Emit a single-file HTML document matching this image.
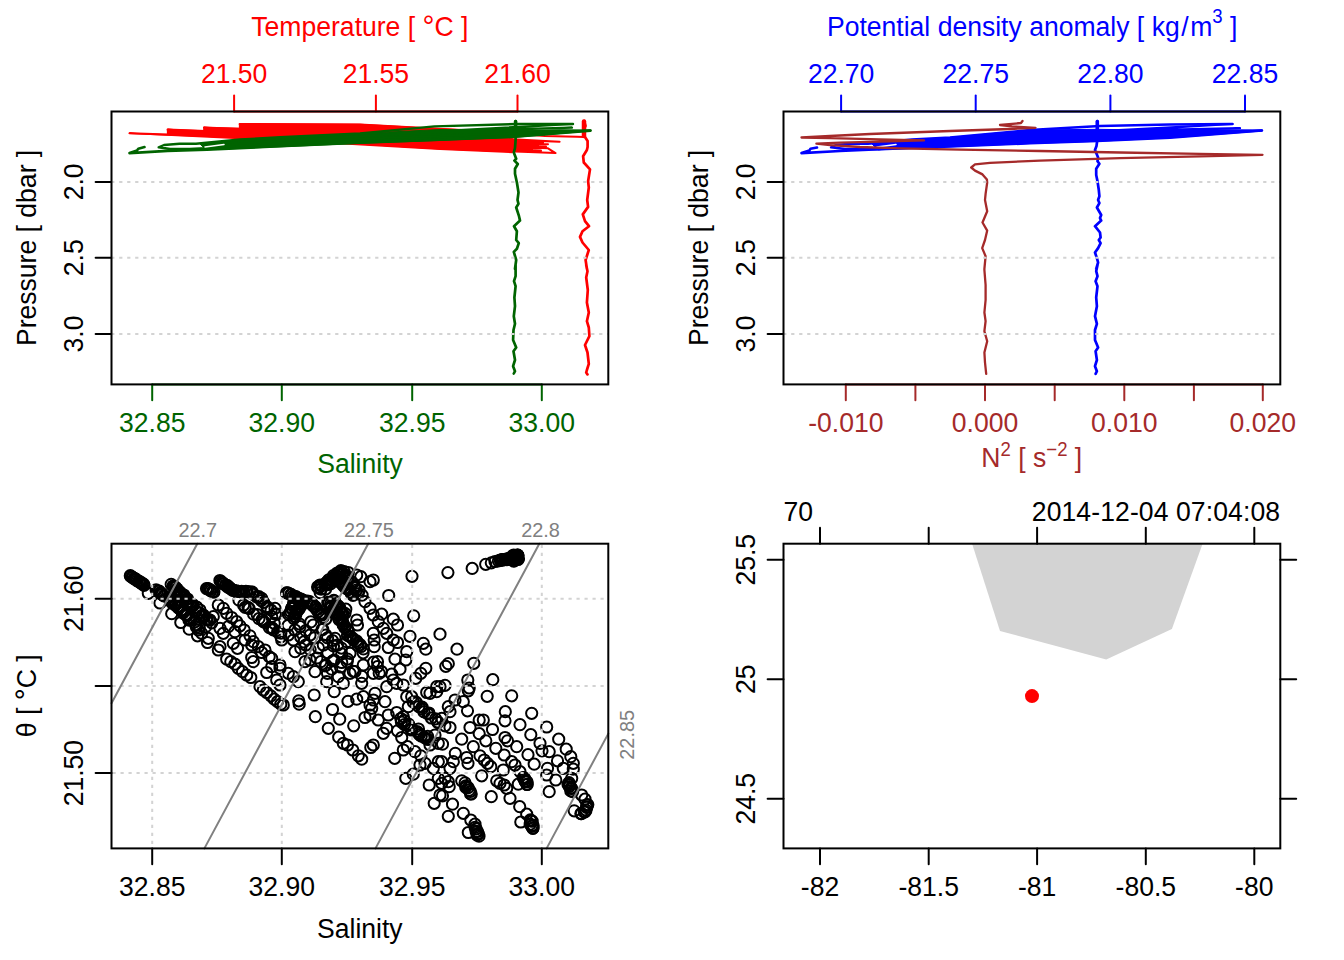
<!DOCTYPE html>
<html><head><meta charset="utf-8"><title>CTD plot</title>
<style>
html,body{margin:0;padding:0;background:#fff;}
svg{display:block;font-family:"Liberation Sans",sans-serif;}
</style></head><body>
<svg width="1344" height="960" viewBox="0 0 1344 960">
<rect x="0" y="0" width="1344" height="960" fill="#fff"/>
<line x1="234.10" y1="111.50" x2="234.10" y2="95.60" stroke="#ff0000" stroke-width="2" stroke-linecap="round" />
<text transform="translate(234.10 82.90) scale(1 1.06)" fill="#ff0000" font-size="26.56" text-anchor="middle" >21.50</text>
<line x1="375.90" y1="111.50" x2="375.90" y2="95.60" stroke="#ff0000" stroke-width="2" stroke-linecap="round" />
<text transform="translate(375.90 82.90) scale(1 1.06)" fill="#ff0000" font-size="26.56" text-anchor="middle" >21.55</text>
<line x1="517.50" y1="111.50" x2="517.50" y2="95.60" stroke="#ff0000" stroke-width="2" stroke-linecap="round" />
<text transform="translate(517.50 82.90) scale(1 1.06)" fill="#ff0000" font-size="26.56" text-anchor="middle" >21.60</text>
<line x1="234.10" y1="111.50" x2="517.50" y2="111.50" stroke="#ff0000" stroke-width="2" stroke-linecap="round" />
<text transform="translate(359.90 35.50) scale(1 1.06)" fill="#ff0000" font-size="26.56" text-anchor="middle" >Temperature [ <tspan font-size="30" dy="1.2">°</tspan><tspan dy="-1.2">C ]</tspan></text>
<line x1="152.20" y1="384.40" x2="152.20" y2="400.30" stroke="#006400" stroke-width="2" stroke-linecap="round" />
<text transform="translate(152.20 432.10) scale(1 1.06)" fill="#006400" font-size="26.56" text-anchor="middle" >32.85</text>
<line x1="281.80" y1="384.40" x2="281.80" y2="400.30" stroke="#006400" stroke-width="2" stroke-linecap="round" />
<text transform="translate(281.80 432.10) scale(1 1.06)" fill="#006400" font-size="26.56" text-anchor="middle" >32.90</text>
<line x1="412.20" y1="384.40" x2="412.20" y2="400.30" stroke="#006400" stroke-width="2" stroke-linecap="round" />
<text transform="translate(412.20 432.10) scale(1 1.06)" fill="#006400" font-size="26.56" text-anchor="middle" >32.95</text>
<line x1="541.80" y1="384.40" x2="541.80" y2="400.30" stroke="#006400" stroke-width="2" stroke-linecap="round" />
<text transform="translate(541.80 432.10) scale(1 1.06)" fill="#006400" font-size="26.56" text-anchor="middle" >33.00</text>
<line x1="152.20" y1="384.40" x2="541.80" y2="384.40" stroke="#006400" stroke-width="2" stroke-linecap="round" />
<text transform="translate(360.00 473.40) scale(1 1.06)" fill="#006400" font-size="26.56" text-anchor="middle" >Salinity</text>
<line x1="111.50" y1="181.90" x2="95.60" y2="181.90" stroke="#000" stroke-width="2" stroke-linecap="round" />
<text transform="translate(82.80 181.90) rotate(-90) scale(1 1.06)" fill="#000" font-size="26.56" text-anchor="middle" >2.0</text>
<line x1="111.50" y1="257.80" x2="95.60" y2="257.80" stroke="#000" stroke-width="2" stroke-linecap="round" />
<text transform="translate(82.80 257.80) rotate(-90) scale(1 1.06)" fill="#000" font-size="26.56" text-anchor="middle" >2.5</text>
<line x1="111.50" y1="334.00" x2="95.60" y2="334.00" stroke="#000" stroke-width="2" stroke-linecap="round" />
<text transform="translate(82.80 334.00) rotate(-90) scale(1 1.06)" fill="#000" font-size="26.56" text-anchor="middle" >3.0</text>
<text transform="translate(35.80 247.90) rotate(-90) scale(1 1.06)" fill="#000" font-size="26.56" text-anchor="middle" >Pressure [ dbar ]</text>
<polygon points="129.5,133.2 167.6,135 167.6,129.6 203.9,131 203.9,127.5 239.6,128.4 239.6,123.9 360,124.5 480,131 512,134 512,152.4 440,149.3 300,141.2" fill="#ff0000" stroke="#ff0000" stroke-width="1.5" stroke-linejoin="round"/>
<polyline points="584.0,137.0 577.0,136.8 545.0,136.0 480.0,131.0 360.0,124.5 239.6,123.9 559.6,141.8 203.9,127.5 548.0,144.2 167.6,129.6 546.0,146.6 129.5,133.2 548.0,148.3 555.5,153.1 440.0,148.5 300.0,140.0 541.0,150.6 250.0,136.0 538.0,145.5 330.0,130.0 532.0,149.0 280.0,133.0 543.0,142.6 300.0,127.0 527.0,147.3" fill="none" stroke="#ff0000" stroke-width="2" stroke-linejoin="round" stroke-linecap="round" />
<polyline points="584.0,121.0 585.5,126.0 583.0,131.0 585.0,137.0 587.6,141.0 587.6,147.0 586.9,150.0 583.1,156.2 583.8,162.5 590.0,169.4 588.1,181.2 588.8,187.5 587.2,200.0 588.1,206.9 582.8,214.4 585.0,221.2 589.0,226.2 582.5,231.2 580.0,236.9 582.5,242.5 588.8,250.0 585.6,260.0 586.9,268.8 586.2,265.0 587.5,271.2 586.2,277.5 587.8,290.0 586.9,302.5 588.8,312.5 586.9,321.2 588.8,327.5 589.4,336.2 585.0,345.0 587.5,352.5 588.8,363.8 586.9,370.0 586.2,372.5 587.5,374.4" fill="none" stroke="#ff0000" stroke-width="2.7" stroke-linejoin="round" stroke-linecap="round" />
<polyline points="584.0,121.5 584.0,136.0" fill="none" stroke="#ff0000" stroke-width="4.5" stroke-linejoin="round" stroke-linecap="round" />
<polygon points="200,144 240,139.5 280,137.3 360,133.5 440,129.5 515,130.5 560,129.8 590.5,130.2 590.5,131 515,137.3 440,140.4 360,143.3 280,146.8 206,149.8" fill="#006400" stroke="#006400" stroke-width="1" stroke-linejoin="round"/>
<polyline points="144.5,147.0 138.3,148.8 137.0,150.6 129.5,153.1 167.6,150.9 206.9,149.6 280.0,146.3 360.0,142.8 440.0,139.8 515.0,136.8 590.5,130.6" fill="none" stroke="#006400" stroke-width="2.6" stroke-linejoin="round" stroke-linecap="round" />
<polyline points="206.0,149.0 170.0,149.0 158.7,147.3 164.0,145.0 179.5,143.8 196.0,143.8 240.0,139.5 280.0,137.3 360.0,133.5 434.4,126.4 516.2,124.0 573.0,124.0" fill="none" stroke="#006400" stroke-width="2.4" stroke-linejoin="round" stroke-linecap="round" />
<polyline points="182.0,149.6 205.0,148.0 230.0,144.5 260.0,142.0 573.0,124.0 440.0,131.0 572.0,127.6 400.0,133.0 590.5,130.6 300.0,141.0" fill="none" stroke="#006400" stroke-width="2.2" stroke-linejoin="round" stroke-linecap="round" />
<polyline points="205.0,146.9 224.0,144.6" fill="none" stroke="#fff" stroke-width="1.5" stroke-linejoin="round" stroke-linecap="round" />
<polyline points="515.6,121.0 515.6,140.0 515.0,148.0 513.8,152.5 516.2,158.8 514.4,160.6 517.8,164.0 515.0,168.8 515.0,173.8 516.9,182.5 518.5,192.5 517.5,200.0 518.5,203.8 516.2,207.5 519.0,216.2 520.0,220.6 514.0,226.2 516.9,231.2 516.2,240.0 518.8,243.1 516.9,248.8 513.8,251.9 516.2,260.0 515.0,268.8 515.6,265.0 515.6,276.2 514.0,281.2 515.6,286.2 514.4,297.5 515.0,306.2 513.8,316.2 515.0,323.8 513.5,330.0 513.1,340.0 516.2,347.5 513.5,351.2 515.0,360.0 513.1,366.2 515.0,371.2 513.8,373.5" fill="none" stroke="#006400" stroke-width="2.7" stroke-linejoin="round" stroke-linecap="round" />
<polyline points="515.6,121.5 515.6,131.0" fill="none" stroke="#006400" stroke-width="3.6" stroke-linejoin="round" stroke-linecap="round" />
<line x1="111.20" y1="181.90" x2="608.30" y2="181.90" stroke="#d3d3d3" stroke-width="2" stroke-dasharray="3.2 4.8"/>
<line x1="111.20" y1="257.80" x2="608.30" y2="257.80" stroke="#d3d3d3" stroke-width="2" stroke-dasharray="3.2 4.8"/>
<line x1="111.20" y1="334.00" x2="608.30" y2="334.00" stroke="#d3d3d3" stroke-width="2" stroke-dasharray="3.2 4.8"/>
<rect x="111.50" y="111.50" width="496.80" height="272.90" fill="none" stroke="#000" stroke-width="2"/>
<line x1="841.10" y1="111.50" x2="841.10" y2="95.60" stroke="#0000ff" stroke-width="2" stroke-linecap="round" />
<text transform="translate(841.10 82.90) scale(1 1.06)" fill="#0000ff" font-size="26.56" text-anchor="middle" >22.70</text>
<line x1="975.70" y1="111.50" x2="975.70" y2="95.60" stroke="#0000ff" stroke-width="2" stroke-linecap="round" />
<text transform="translate(975.70 82.90) scale(1 1.06)" fill="#0000ff" font-size="26.56" text-anchor="middle" >22.75</text>
<line x1="1110.40" y1="111.50" x2="1110.40" y2="95.60" stroke="#0000ff" stroke-width="2" stroke-linecap="round" />
<text transform="translate(1110.40 82.90) scale(1 1.06)" fill="#0000ff" font-size="26.56" text-anchor="middle" >22.80</text>
<line x1="1245.00" y1="111.50" x2="1245.00" y2="95.60" stroke="#0000ff" stroke-width="2" stroke-linecap="round" />
<text transform="translate(1245.00 82.90) scale(1 1.06)" fill="#0000ff" font-size="26.56" text-anchor="middle" >22.85</text>
<line x1="841.10" y1="111.50" x2="1245.00" y2="111.50" stroke="#0000ff" stroke-width="2" stroke-linecap="round" />
<text transform="translate(1032.20 35.90) scale(1 1.06)" fill="#0000ff" font-size="26.56" text-anchor="middle" >Potential density anomaly [ kg<tspan dx="1.6">/</tspan><tspan dx="1.6">m</tspan><tspan dy="-12.6" font-size="18.6">3</tspan><tspan dy="12.6" font-size="26.56"> ]</tspan></text>
<line x1="845.80" y1="384.40" x2="845.80" y2="400.30" stroke="#a52a2a" stroke-width="2" stroke-linecap="round" />
<text transform="translate(845.80 432.10) scale(1 1.06)" fill="#a52a2a" font-size="26.56" text-anchor="middle" >-0.010</text>
<line x1="915.40" y1="384.40" x2="915.40" y2="400.30" stroke="#a52a2a" stroke-width="2" stroke-linecap="round" />
<line x1="985.00" y1="384.40" x2="985.00" y2="400.30" stroke="#a52a2a" stroke-width="2" stroke-linecap="round" />
<text transform="translate(985.00 432.10) scale(1 1.06)" fill="#a52a2a" font-size="26.56" text-anchor="middle" >0.000</text>
<line x1="1054.70" y1="384.40" x2="1054.70" y2="400.30" stroke="#a52a2a" stroke-width="2" stroke-linecap="round" />
<line x1="1124.30" y1="384.40" x2="1124.30" y2="400.30" stroke="#a52a2a" stroke-width="2" stroke-linecap="round" />
<text transform="translate(1124.30 432.10) scale(1 1.06)" fill="#a52a2a" font-size="26.56" text-anchor="middle" >0.010</text>
<line x1="1193.90" y1="384.40" x2="1193.90" y2="400.30" stroke="#a52a2a" stroke-width="2" stroke-linecap="round" />
<line x1="1262.80" y1="384.40" x2="1262.80" y2="400.30" stroke="#a52a2a" stroke-width="2" stroke-linecap="round" />
<text transform="translate(1262.80 432.10) scale(1 1.06)" fill="#a52a2a" font-size="26.56" text-anchor="middle" >0.020</text>
<line x1="845.80" y1="384.40" x2="1262.80" y2="384.40" stroke="#a52a2a" stroke-width="2" stroke-linecap="round" />
<text transform="translate(1031.80 467.20) scale(1 1.06)" fill="#a52a2a" font-size="26.56" text-anchor="middle" >N<tspan dy="-11" font-size="18.6">2</tspan><tspan dy="11" font-size="26.56"> [ s</tspan><tspan dy="-11" font-size="18.6">−2</tspan><tspan dy="11" font-size="26.56"> ]</tspan></text>
<line x1="783.50" y1="181.90" x2="767.60" y2="181.90" stroke="#000" stroke-width="2" stroke-linecap="round" />
<text transform="translate(754.80 181.90) rotate(-90) scale(1 1.06)" fill="#000" font-size="26.56" text-anchor="middle" >2.0</text>
<line x1="783.50" y1="257.80" x2="767.60" y2="257.80" stroke="#000" stroke-width="2" stroke-linecap="round" />
<text transform="translate(754.80 257.80) rotate(-90) scale(1 1.06)" fill="#000" font-size="26.56" text-anchor="middle" >2.5</text>
<line x1="783.50" y1="334.00" x2="767.60" y2="334.00" stroke="#000" stroke-width="2" stroke-linecap="round" />
<text transform="translate(754.80 334.00) rotate(-90) scale(1 1.06)" fill="#000" font-size="26.56" text-anchor="middle" >3.0</text>
<text transform="translate(707.80 247.90) rotate(-90) scale(1 1.06)" fill="#000" font-size="26.56" text-anchor="middle" >Pressure [ dbar ]</text>
<polygon points="872,144 912,139.5 950,137.5 1030,130 1097,129.3 1170,130.3 1230,129.8 1262,130.1 1262,131 1170,137.8 1097,141.3 1030,143.5 950,146.8 878,149.8" fill="#0000ff" stroke="#0000ff" stroke-width="1" stroke-linejoin="round"/>
<polyline points="817.0,147.5 810.5,148.8 809.3,150.6 801.5,153.1 840.0,151.0 880.0,149.3 950.0,146.5 1030.0,143.3 1097.0,141.0 1170.0,137.8 1262.0,130.5" fill="none" stroke="#0000ff" stroke-width="2.6" stroke-linejoin="round" stroke-linecap="round" />
<polyline points="880.0,149.0 845.0,149.0 831.0,147.3 836.0,145.0 851.0,143.8 868.0,143.8 912.0,139.5 950.0,137.5 1030.0,130.0 1100.0,126.0 1170.0,124.5 1232.5,124.0" fill="none" stroke="#0000ff" stroke-width="2.4" stroke-linejoin="round" stroke-linecap="round" />
<polyline points="854.0,149.6 877.0,148.0 902.0,144.5 932.0,142.0 1232.5,124.0 1100.0,131.0 1240.0,128.2 1060.0,134.0 1262.0,130.5 970.0,141.0" fill="none" stroke="#0000ff" stroke-width="2.2" stroke-linejoin="round" stroke-linecap="round" />
<polyline points="877.0,146.9 896.0,144.6" fill="none" stroke="#fff" stroke-width="1.5" stroke-linejoin="round" stroke-linecap="round" />
<polyline points="1097.3,121.0 1097.3,140.0 1096.5,146.0 1095.0,150.0 1098.1,157.5 1097.5,161.2 1099.4,163.8 1096.2,168.8 1096.2,175.0 1097.5,181.2 1098.8,190.0 1099.4,196.2 1098.1,200.0 1099.4,203.1 1096.9,207.5 1101.2,215.0 1100.0,218.1 1101.2,220.6 1095.0,226.2 1100.0,232.5 1100.6,237.5 1098.8,240.0 1100.6,243.1 1098.1,248.1 1095.0,252.5 1096.9,258.1 1098.1,262.5 1096.2,268.8 1097.5,265.0 1096.2,271.2 1097.5,276.2 1095.6,281.2 1097.5,286.2 1096.2,297.5 1096.9,306.2 1095.0,316.2 1096.9,323.8 1095.0,330.0 1095.0,340.0 1098.1,347.5 1095.6,351.2 1096.9,360.0 1095.0,366.2 1096.9,371.2 1095.6,373.8" fill="none" stroke="#0000ff" stroke-width="2.7" stroke-linejoin="round" stroke-linecap="round" />
<polyline points="1097.3,121.5 1097.3,131.0" fill="none" stroke="#0000ff" stroke-width="3.6" stroke-linejoin="round" stroke-linecap="round" />
<polyline points="1022.5,121.0 1021.0,123.0 1000.0,125.0 1012.0,126.3 1035.5,127.8 1010.0,129.0 950.0,131.0 870.0,134.0 830.0,136.0 801.5,137.5 830.0,138.2 880.0,139.4 924.0,140.4 880.0,141.6 840.0,142.7 816.4,143.6 830.0,145.0 860.0,147.0 900.0,148.3 960.0,149.7 1040.0,151.0 1120.0,152.5 1200.0,153.8 1262.5,154.8 1200.0,156.3 1120.0,158.1 1040.0,160.6 990.0,162.9 975.0,164.4 971.2,167.5 975.0,170.6 982.5,174.4 986.9,179.4 987.2,182.5 985.6,193.8 985.0,200.0 987.2,211.2 982.5,222.5 987.2,230.6 985.0,240.0 982.2,248.1 985.6,256.2 984.4,268.8 984.4,270.0 985.6,285.0 985.6,300.0 984.4,312.5 985.6,321.2 984.4,331.2 987.2,341.2 984.4,352.5 985.0,362.5 986.2,373.8" fill="none" stroke="#a52a2a" stroke-width="2.3" stroke-linejoin="round" stroke-linecap="round" />
<line x1="783.20" y1="181.90" x2="1280.30" y2="181.90" stroke="#d3d3d3" stroke-width="2" stroke-dasharray="3.2 4.8"/>
<line x1="783.20" y1="257.80" x2="1280.30" y2="257.80" stroke="#d3d3d3" stroke-width="2" stroke-dasharray="3.2 4.8"/>
<line x1="783.20" y1="334.00" x2="1280.30" y2="334.00" stroke="#d3d3d3" stroke-width="2" stroke-dasharray="3.2 4.8"/>
<rect x="783.50" y="111.50" width="496.80" height="272.90" fill="none" stroke="#000" stroke-width="2"/>
<clipPath id="tsclip"><rect x="111.50" y="543.70" width="496.80" height="304.70"/></clipPath>
<g clip-path="url(#tsclip)" fill="none" stroke="#000" stroke-width="2"><circle cx="412.0" cy="576.3" r="5.6"/><circle cx="447.9" cy="572.6" r="5.6"/><circle cx="472.2" cy="568.4" r="5.6"/><circle cx="485.7" cy="564.3" r="5.6"/><circle cx="491.3" cy="562.8" r="5.6"/><circle cx="495.0" cy="561.5" r="5.6"/><circle cx="498.4" cy="560.8" r="5.6"/><circle cx="500.3" cy="560.2" r="5.6"/><circle cx="501.2" cy="560.2" r="5.6"/><circle cx="502.2" cy="559.5" r="5.6"/><circle cx="502.4" cy="560.2" r="5.6"/><circle cx="503.4" cy="559.5" r="5.6"/><circle cx="504.9" cy="559.6" r="5.6"/><circle cx="505.5" cy="559.5" r="5.6"/><circle cx="506.1" cy="559.0" r="5.6"/><circle cx="506.8" cy="559.6" r="5.6"/><circle cx="507.5" cy="559.4" r="5.6"/><circle cx="508.4" cy="558.6" r="5.6"/><circle cx="509.2" cy="559.0" r="5.6"/><circle cx="509.5" cy="558.3" r="5.6"/><circle cx="510.8" cy="558.6" r="5.6"/><circle cx="511.5" cy="558.9" r="5.6"/><circle cx="512.2" cy="558.8" r="5.6"/><circle cx="512.7" cy="559.8" r="5.6"/><circle cx="511.7" cy="559.2" r="5.6"/><circle cx="515.5" cy="557.8" r="5.6"/><circle cx="515.8" cy="558.6" r="5.6"/><circle cx="516.9" cy="557.7" r="5.6"/><circle cx="514.4" cy="557.2" r="5.6"/><circle cx="513.7" cy="557.9" r="5.6"/><circle cx="513.8" cy="559.7" r="5.6"/><circle cx="512.1" cy="556.4" r="5.6"/><circle cx="513.7" cy="555.0" r="5.6"/><circle cx="517.6" cy="555.2" r="5.6"/><circle cx="514.9" cy="557.5" r="5.6"/><circle cx="517.6" cy="555.3" r="5.6"/><circle cx="517.1" cy="556.8" r="5.6"/><circle cx="515.0" cy="557.3" r="5.6"/><circle cx="516.3" cy="556.2" r="5.6"/><circle cx="515.1" cy="558.2" r="5.6"/><circle cx="517.6" cy="555.2" r="5.6"/><circle cx="517.9" cy="559.5" r="5.6"/><circle cx="514.7" cy="558.3" r="5.6"/><circle cx="514.4" cy="560.7" r="5.6"/><circle cx="515.3" cy="557.9" r="5.6"/><circle cx="515.1" cy="557.9" r="5.6"/><circle cx="514.9" cy="556.8" r="5.6"/><circle cx="518.0" cy="555.6" r="5.6"/><circle cx="511.2" cy="557.9" r="5.6"/><circle cx="515.1" cy="558.3" r="5.6"/><circle cx="515.1" cy="557.9" r="5.6"/><circle cx="515.7" cy="559.4" r="5.6"/><circle cx="514.7" cy="557.6" r="5.6"/><circle cx="518.5" cy="558.8" r="5.6"/><circle cx="513.7" cy="561.2" r="5.6"/><circle cx="516.4" cy="557.2" r="5.6"/><circle cx="513.2" cy="558.5" r="5.6"/><circle cx="513.7" cy="556.3" r="5.6"/><circle cx="512.9" cy="557.2" r="5.6"/><circle cx="517.1" cy="557.3" r="5.6"/><circle cx="512.6" cy="559.1" r="5.6"/><circle cx="515.3" cy="559.1" r="5.6"/><circle cx="517.2" cy="557.7" r="5.6"/><circle cx="468.3" cy="690.8" r="5.6"/><circle cx="487.2" cy="696.3" r="5.6"/><circle cx="511.7" cy="695.8" r="5.6"/><circle cx="455.0" cy="700.0" r="5.6"/><circle cx="463.3" cy="701.7" r="5.6"/><circle cx="448.3" cy="706.7" r="5.6"/><circle cx="450.0" cy="711.7" r="5.6"/><circle cx="467.5" cy="710.8" r="5.6"/><circle cx="505.3" cy="711.7" r="5.6"/><circle cx="531.7" cy="713.3" r="5.6"/><circle cx="479.2" cy="720.0" r="5.6"/><circle cx="483.3" cy="720.0" r="5.6"/><circle cx="505.0" cy="720.8" r="5.6"/><circle cx="520.0" cy="724.7" r="5.6"/><circle cx="546.7" cy="727.0" r="5.6"/><circle cx="441.7" cy="718.3" r="5.6"/><circle cx="445.0" cy="725.8" r="5.6"/><circle cx="450.0" cy="727.5" r="5.6"/><circle cx="470.0" cy="727.5" r="5.6"/><circle cx="492.5" cy="729.5" r="5.6"/><circle cx="479.2" cy="733.7" r="5.6"/><circle cx="530.8" cy="734.7" r="5.6"/><circle cx="558.7" cy="739.2" r="5.6"/><circle cx="461.7" cy="739.2" r="5.6"/><circle cx="485.8" cy="740.8" r="5.6"/><circle cx="505.0" cy="737.5" r="5.6"/><circle cx="507.5" cy="740.8" r="5.6"/><circle cx="442.5" cy="744.2" r="5.6"/><circle cx="473.3" cy="746.7" r="5.6"/><circle cx="495.8" cy="748.3" r="5.6"/><circle cx="516.7" cy="746.7" r="5.6"/><circle cx="540.0" cy="743.3" r="5.6"/><circle cx="542.0" cy="750.8" r="5.6"/><circle cx="549.2" cy="751.7" r="5.6"/><circle cx="566.2" cy="749.2" r="5.6"/><circle cx="455.3" cy="753.3" r="5.6"/><circle cx="466.7" cy="757.5" r="5.6"/><circle cx="480.0" cy="755.8" r="5.6"/><circle cx="504.2" cy="755.0" r="5.6"/><circle cx="528.0" cy="754.7" r="5.6"/><circle cx="570.8" cy="756.7" r="5.6"/><circle cx="453.3" cy="761.7" r="5.6"/><circle cx="468.0" cy="763.3" r="5.6"/><circle cx="484.2" cy="760.0" r="5.6"/><circle cx="487.5" cy="763.3" r="5.6"/><circle cx="490.8" cy="766.7" r="5.6"/><circle cx="511.7" cy="761.7" r="5.6"/><circle cx="515.0" cy="765.0" r="5.6"/><circle cx="534.2" cy="764.2" r="5.6"/><circle cx="557.5" cy="760.8" r="5.6"/><circle cx="573.3" cy="763.3" r="5.6"/><circle cx="441.7" cy="761.7" r="5.6"/><circle cx="450.0" cy="768.3" r="5.6"/><circle cx="481.7" cy="775.8" r="5.6"/><circle cx="503.3" cy="770.0" r="5.6"/><circle cx="520.0" cy="771.7" r="5.6"/><circle cx="547.5" cy="768.3" r="5.6"/><circle cx="563.3" cy="768.3" r="5.6"/><circle cx="573.3" cy="769.2" r="5.6"/><circle cx="546.7" cy="775.0" r="5.6"/><circle cx="555.8" cy="780.0" r="5.6"/><circle cx="571.7" cy="778.3" r="5.6"/><circle cx="445.0" cy="778.3" r="5.6"/><circle cx="448.3" cy="781.7" r="5.6"/><circle cx="441.7" cy="783.3" r="5.6"/><circle cx="449.2" cy="786.7" r="5.6"/><circle cx="461.7" cy="780.8" r="5.6"/><circle cx="496.7" cy="780.8" r="5.6"/><circle cx="500.0" cy="783.3" r="5.6"/><circle cx="504.2" cy="785.0" r="5.6"/><circle cx="506.7" cy="788.3" r="5.6"/><circle cx="518.3" cy="784.2" r="5.6"/><circle cx="549.2" cy="791.7" r="5.6"/><circle cx="491.3" cy="796.7" r="5.6"/><circle cx="510.0" cy="798.3" r="5.6"/><circle cx="442.5" cy="795.8" r="5.6"/><circle cx="452.5" cy="804.2" r="5.6"/><circle cx="463.3" cy="813.3" r="5.6"/><circle cx="448.3" cy="816.3" r="5.6"/><circle cx="470.8" cy="820.0" r="5.6"/><circle cx="475.0" cy="824.2" r="5.6"/><circle cx="468.3" cy="832.5" r="5.6"/><circle cx="519.7" cy="806.7" r="5.6"/><circle cx="526.7" cy="814.2" r="5.6"/><circle cx="520.8" cy="822.0" r="5.6"/><circle cx="581.7" cy="795.0" r="5.6"/><circle cx="585.0" cy="799.2" r="5.6"/><circle cx="574.2" cy="810.8" r="5.6"/><circle cx="465.1" cy="782.8" r="5.6"/><circle cx="465.8" cy="785.8" r="5.6"/><circle cx="465.8" cy="787.4" r="5.6"/><circle cx="468.2" cy="787.7" r="5.6"/><circle cx="469.1" cy="790.2" r="5.6"/><circle cx="470.2" cy="791.5" r="5.6"/><circle cx="471.2" cy="794.0" r="5.6"/><circle cx="470.6" cy="793.9" r="5.6"/><circle cx="523.7" cy="777.8" r="5.6"/><circle cx="523.2" cy="777.6" r="5.6"/><circle cx="524.6" cy="778.3" r="5.6"/><circle cx="524.5" cy="779.4" r="5.6"/><circle cx="525.1" cy="781.1" r="5.6"/><circle cx="525.4" cy="781.6" r="5.6"/><circle cx="527.1" cy="781.8" r="5.6"/><circle cx="527.1" cy="784.5" r="5.6"/><circle cx="527.0" cy="784.3" r="5.6"/><circle cx="569.0" cy="782.7" r="5.6"/><circle cx="568.0" cy="784.3" r="5.6"/><circle cx="569.7" cy="784.7" r="5.6"/><circle cx="569.3" cy="786.5" r="5.6"/><circle cx="571.0" cy="788.0" r="5.6"/><circle cx="571.6" cy="788.5" r="5.6"/><circle cx="570.8" cy="790.9" r="5.6"/><circle cx="572.6" cy="791.6" r="5.6"/><circle cx="475.1" cy="827.4" r="5.6"/><circle cx="476.2" cy="828.8" r="5.6"/><circle cx="477.3" cy="831.5" r="5.6"/><circle cx="476.1" cy="831.4" r="5.6"/><circle cx="478.0" cy="833.4" r="5.6"/><circle cx="478.3" cy="833.9" r="5.6"/><circle cx="477.1" cy="835.0" r="5.6"/><circle cx="479.0" cy="836.2" r="5.6"/><circle cx="530.4" cy="819.8" r="5.6"/><circle cx="530.8" cy="820.8" r="5.6"/><circle cx="532.2" cy="821.2" r="5.6"/><circle cx="530.2" cy="824.2" r="5.6"/><circle cx="532.6" cy="825.3" r="5.6"/><circle cx="531.7" cy="826.3" r="5.6"/><circle cx="533.1" cy="825.6" r="5.6"/><circle cx="532.9" cy="828.1" r="5.6"/><circle cx="532.9" cy="828.3" r="5.6"/><circle cx="587.8" cy="804.6" r="5.6"/><circle cx="586.8" cy="805.1" r="5.6"/><circle cx="586.9" cy="806.8" r="5.6"/><circle cx="586.6" cy="807.4" r="5.6"/><circle cx="586.0" cy="810.1" r="5.6"/><circle cx="585.2" cy="811.7" r="5.6"/><circle cx="584.3" cy="812.1" r="5.6"/><circle cx="581.4" cy="813.6" r="5.6"/><circle cx="580.9" cy="813.7" r="5.6"/><circle cx="440.0" cy="634.2" r="5.6"/><circle cx="457.0" cy="649.2" r="5.6"/><circle cx="448.3" cy="663.7" r="5.6"/><circle cx="445.8" cy="666.3" r="5.6"/><circle cx="473.8" cy="663.3" r="5.6"/><circle cx="467.8" cy="680.0" r="5.6"/><circle cx="492.8" cy="679.7" r="5.6"/><circle cx="445.0" cy="685.3" r="5.6"/><circle cx="440.0" cy="686.7" r="5.6"/><circle cx="469.2" cy="688.0" r="5.6"/><circle cx="298.7" cy="700.8" r="5.6"/><circle cx="299.2" cy="704.2" r="5.6"/><circle cx="314.2" cy="695.0" r="5.6"/><circle cx="315.3" cy="716.7" r="5.6"/><circle cx="332.5" cy="709.5" r="5.6"/><circle cx="339.7" cy="719.2" r="5.6"/><circle cx="328.3" cy="728.3" r="5.6"/><circle cx="338.7" cy="737.2" r="5.6"/><circle cx="343.3" cy="743.3" r="5.6"/><circle cx="347.5" cy="745.0" r="5.6"/><circle cx="352.8" cy="750.0" r="5.6"/><circle cx="358.3" cy="755.8" r="5.6"/><circle cx="361.7" cy="759.2" r="5.6"/><circle cx="348.0" cy="701.3" r="5.6"/><circle cx="353.7" cy="725.8" r="5.6"/><circle cx="334.2" cy="691.7" r="5.6"/><circle cx="356.7" cy="699.2" r="5.6"/><circle cx="365.0" cy="717.5" r="5.6"/><circle cx="370.0" cy="715.0" r="5.6"/><circle cx="373.3" cy="745.0" r="5.6"/><circle cx="370.8" cy="747.5" r="5.6"/><circle cx="378.3" cy="720.0" r="5.6"/><circle cx="383.3" cy="733.3" r="5.6"/><circle cx="386.7" cy="728.3" r="5.6"/><circle cx="394.7" cy="758.3" r="5.6"/><circle cx="405.8" cy="778.3" r="5.6"/><circle cx="413.3" cy="774.2" r="5.6"/><circle cx="429.2" cy="785.0" r="5.6"/><circle cx="434.2" cy="803.3" r="5.6"/><circle cx="438.3" cy="778.3" r="5.6"/><circle cx="440.0" cy="795.0" r="5.6"/><circle cx="363.3" cy="696.7" r="5.6"/><circle cx="370.0" cy="705.0" r="5.6"/><circle cx="373.3" cy="700.0" r="5.6"/><circle cx="371.7" cy="708.3" r="5.6"/><circle cx="375.0" cy="693.3" r="5.6"/><circle cx="385.0" cy="701.7" r="5.6"/><circle cx="388.3" cy="715.0" r="5.6"/><circle cx="396.7" cy="712.5" r="5.6"/><circle cx="397.5" cy="730.8" r="5.6"/><circle cx="401.7" cy="737.5" r="5.6"/><circle cx="403.3" cy="716.7" r="5.6"/><circle cx="403.3" cy="750.0" r="5.6"/><circle cx="407.5" cy="746.7" r="5.6"/><circle cx="415.0" cy="751.7" r="5.6"/><circle cx="420.8" cy="755.8" r="5.6"/><circle cx="425.0" cy="763.3" r="5.6"/><circle cx="420.0" cy="765.0" r="5.6"/><circle cx="433.3" cy="768.3" r="5.6"/><circle cx="438.3" cy="761.7" r="5.6"/><circle cx="406.7" cy="696.7" r="5.6"/><circle cx="411.7" cy="696.7" r="5.6"/><circle cx="408.3" cy="706.7" r="5.6"/><circle cx="426.7" cy="692.5" r="5.6"/><circle cx="430.0" cy="693.3" r="5.6"/><circle cx="436.7" cy="691.7" r="5.6"/><circle cx="430.0" cy="745.0" r="5.6"/><circle cx="435.0" cy="735.0" r="5.6"/><circle cx="438.3" cy="743.3" r="5.6"/><circle cx="400.8" cy="718.5" r="5.6"/><circle cx="401.4" cy="722.0" r="5.6"/><circle cx="404.3" cy="720.5" r="5.6"/><circle cx="404.4" cy="724.5" r="5.6"/><circle cx="407.4" cy="725.6" r="5.6"/><circle cx="408.6" cy="724.1" r="5.6"/><circle cx="411.4" cy="728.7" r="5.6"/><circle cx="411.5" cy="730.0" r="5.6"/><circle cx="417.1" cy="731.5" r="5.6"/><circle cx="418.5" cy="729.0" r="5.6"/><circle cx="419.4" cy="734.7" r="5.6"/><circle cx="418.4" cy="733.2" r="5.6"/><circle cx="421.3" cy="736.0" r="5.6"/><circle cx="424.0" cy="737.2" r="5.6"/><circle cx="427.6" cy="736.3" r="5.6"/><circle cx="425.9" cy="738.3" r="5.6"/><circle cx="428.1" cy="739.5" r="5.6"/><circle cx="415.7" cy="701.8" r="5.6"/><circle cx="413.3" cy="702.0" r="5.6"/><circle cx="416.6" cy="703.0" r="5.6"/><circle cx="418.8" cy="706.6" r="5.6"/><circle cx="422.1" cy="707.1" r="5.6"/><circle cx="422.2" cy="708.9" r="5.6"/><circle cx="424.0" cy="711.9" r="5.6"/><circle cx="429.0" cy="713.0" r="5.6"/><circle cx="427.9" cy="713.9" r="5.6"/><circle cx="431.4" cy="718.0" r="5.6"/><circle cx="435.6" cy="718.8" r="5.6"/><circle cx="437.8" cy="722.0" r="5.6"/><circle cx="438.0" cy="722.7" r="5.6"/><circle cx="340.0" cy="572.3" r="5.6"/><circle cx="338.4" cy="573.3" r="5.6"/><circle cx="337.2" cy="573.0" r="5.6"/><circle cx="336.1" cy="575.3" r="5.6"/><circle cx="333.4" cy="575.6" r="5.6"/><circle cx="333.2" cy="578.0" r="5.6"/><circle cx="333.4" cy="577.5" r="5.6"/><circle cx="331.9" cy="579.7" r="5.6"/><circle cx="328.7" cy="579.8" r="5.6"/><circle cx="327.0" cy="581.9" r="5.6"/><circle cx="327.3" cy="583.1" r="5.6"/><circle cx="326.3" cy="583.5" r="5.6"/><circle cx="324.8" cy="584.2" r="5.6"/><circle cx="321.6" cy="585.3" r="5.6"/><circle cx="320.0" cy="585.0" r="5.6"/><circle cx="321.0" cy="585.7" r="5.6"/><circle cx="317.6" cy="586.9" r="5.6"/><circle cx="318.6" cy="588.2" r="5.6"/><circle cx="340.2" cy="575.2" r="5.6"/><circle cx="338.1" cy="577.1" r="5.6"/><circle cx="337.4" cy="579.1" r="5.6"/><circle cx="335.8" cy="580.2" r="5.6"/><circle cx="332.9" cy="580.6" r="5.6"/><circle cx="330.4" cy="583.9" r="5.6"/><circle cx="327.9" cy="584.7" r="5.6"/><circle cx="325.6" cy="589.1" r="5.6"/><circle cx="321.1" cy="589.2" r="5.6"/><circle cx="320.2" cy="592.7" r="5.6"/><circle cx="340.9" cy="570.7" r="5.6"/><circle cx="342.4" cy="573.8" r="5.6"/><circle cx="345.4" cy="574.9" r="5.6"/><circle cx="345.7" cy="576.7" r="5.6"/><circle cx="347.1" cy="578.6" r="5.6"/><circle cx="347.8" cy="580.6" r="5.6"/><circle cx="351.9" cy="582.2" r="5.6"/><circle cx="352.7" cy="583.2" r="5.6"/><circle cx="354.0" cy="586.8" r="5.6"/><circle cx="355.5" cy="587.9" r="5.6"/><circle cx="356.4" cy="590.0" r="5.6"/><circle cx="359.1" cy="590.4" r="5.6"/><circle cx="358.1" cy="593.9" r="5.6"/><circle cx="362.1" cy="595.1" r="5.6"/><circle cx="336.6" cy="578.7" r="5.6"/><circle cx="337.7" cy="579.5" r="5.6"/><circle cx="339.2" cy="581.5" r="5.6"/><circle cx="340.9" cy="582.5" r="5.6"/><circle cx="343.0" cy="585.1" r="5.6"/><circle cx="343.9" cy="586.2" r="5.6"/><circle cx="345.6" cy="588.0" r="5.6"/><circle cx="347.4" cy="588.6" r="5.6"/><circle cx="348.3" cy="589.7" r="5.6"/><circle cx="350.3" cy="591.8" r="5.6"/><circle cx="351.3" cy="593.3" r="5.6"/><circle cx="353.0" cy="595.4" r="5.6"/><circle cx="307.6" cy="601.0" r="5.6"/><circle cx="309.6" cy="601.6" r="5.6"/><circle cx="310.8" cy="603.5" r="5.6"/><circle cx="312.8" cy="604.3" r="5.6"/><circle cx="313.4" cy="606.1" r="5.6"/><circle cx="315.5" cy="606.9" r="5.6"/><circle cx="316.5" cy="609.4" r="5.6"/><circle cx="317.2" cy="609.3" r="5.6"/><circle cx="318.1" cy="611.7" r="5.6"/><circle cx="320.2" cy="613.6" r="5.6"/><circle cx="321.9" cy="613.6" r="5.6"/><circle cx="321.8" cy="615.0" r="5.6"/><circle cx="323.1" cy="617.3" r="5.6"/><circle cx="325.7" cy="619.1" r="5.6"/><circle cx="327.8" cy="602.4" r="5.6"/><circle cx="328.9" cy="602.9" r="5.6"/><circle cx="330.7" cy="603.7" r="5.6"/><circle cx="330.4" cy="606.6" r="5.6"/><circle cx="331.7" cy="607.1" r="5.6"/><circle cx="333.3" cy="609.2" r="5.6"/><circle cx="333.1" cy="609.9" r="5.6"/><circle cx="334.9" cy="611.6" r="5.6"/><circle cx="335.4" cy="613.3" r="5.6"/><circle cx="337.8" cy="614.3" r="5.6"/><circle cx="337.9" cy="615.2" r="5.6"/><circle cx="338.4" cy="617.7" r="5.6"/><circle cx="339.0" cy="619.6" r="5.6"/><circle cx="341.5" cy="619.4" r="5.6"/><circle cx="342.5" cy="621.4" r="5.6"/><circle cx="343.2" cy="623.6" r="5.6"/><circle cx="343.2" cy="624.9" r="5.6"/><circle cx="344.8" cy="626.6" r="5.6"/><circle cx="345.0" cy="627.9" r="5.6"/><circle cx="347.4" cy="629.2" r="5.6"/><circle cx="347.5" cy="629.5" r="5.6"/><circle cx="348.3" cy="631.4" r="5.6"/><circle cx="333.8" cy="600.4" r="5.6"/><circle cx="334.6" cy="601.0" r="5.6"/><circle cx="335.8" cy="603.6" r="5.6"/><circle cx="336.0" cy="605.8" r="5.6"/><circle cx="338.1" cy="605.9" r="5.6"/><circle cx="339.8" cy="607.6" r="5.6"/><circle cx="339.7" cy="610.4" r="5.6"/><circle cx="341.3" cy="611.8" r="5.6"/><circle cx="342.5" cy="613.2" r="5.6"/><circle cx="343.0" cy="614.4" r="5.6"/><circle cx="347.5" cy="635.4" r="5.6"/><circle cx="350.7" cy="636.8" r="5.6"/><circle cx="352.6" cy="638.1" r="5.6"/><circle cx="353.5" cy="639.8" r="5.6"/><circle cx="356.6" cy="640.8" r="5.6"/><circle cx="357.7" cy="642.8" r="5.6"/><circle cx="360.1" cy="644.7" r="5.6"/><circle cx="361.1" cy="646.5" r="5.6"/><circle cx="363.4" cy="648.9" r="5.6"/><circle cx="286.5" cy="592.9" r="5.6"/><circle cx="287.5" cy="592.9" r="5.6"/><circle cx="288.8" cy="593.3" r="5.6"/><circle cx="290.8" cy="594.7" r="5.6"/><circle cx="291.4" cy="594.7" r="5.6"/><circle cx="293.0" cy="596.0" r="5.6"/><circle cx="294.7" cy="596.6" r="5.6"/><circle cx="295.8" cy="596.6" r="5.6"/><circle cx="296.8" cy="597.3" r="5.6"/><circle cx="298.2" cy="598.4" r="5.6"/><circle cx="299.1" cy="598.6" r="5.6"/><circle cx="301.1" cy="599.0" r="5.6"/><circle cx="302.4" cy="600.7" r="5.6"/><circle cx="303.9" cy="600.7" r="5.6"/><circle cx="303.4" cy="601.0" r="5.6"/><circle cx="302.8" cy="602.9" r="5.6"/><circle cx="302.1" cy="603.2" r="5.6"/><circle cx="301.6" cy="604.8" r="5.6"/><circle cx="300.4" cy="606.6" r="5.6"/><circle cx="298.7" cy="608.0" r="5.6"/><circle cx="299.0" cy="608.9" r="5.6"/><circle cx="298.0" cy="610.2" r="5.6"/><circle cx="296.7" cy="611.6" r="5.6"/><circle cx="295.7" cy="612.9" r="5.6"/><circle cx="295.9" cy="614.2" r="5.6"/><circle cx="295.0" cy="616.4" r="5.6"/><circle cx="294.7" cy="616.4" r="5.6"/><circle cx="293.8" cy="618.5" r="5.6"/><circle cx="294.3" cy="601.4" r="5.6"/><circle cx="293.6" cy="602.9" r="5.6"/><circle cx="293.2" cy="606.2" r="5.6"/><circle cx="291.9" cy="608.0" r="5.6"/><circle cx="291.5" cy="608.7" r="5.6"/><circle cx="290.8" cy="611.4" r="5.6"/><circle cx="290.0" cy="613.4" r="5.6"/><circle cx="288.7" cy="614.7" r="5.6"/><circle cx="388.7" cy="595.5" r="5.6"/><circle cx="413.7" cy="615.8" r="5.6"/><circle cx="410.0" cy="636.3" r="5.6"/><circle cx="373.3" cy="580.0" r="5.6"/><circle cx="370.0" cy="581.7" r="5.6"/><circle cx="360.8" cy="576.7" r="5.6"/><circle cx="356.7" cy="575.0" r="5.6"/><circle cx="348.3" cy="572.5" r="5.6"/><circle cx="344.2" cy="571.7" r="5.6"/><circle cx="365.0" cy="601.7" r="5.6"/><circle cx="370.0" cy="608.3" r="5.6"/><circle cx="373.3" cy="615.0" r="5.6"/><circle cx="381.7" cy="614.2" r="5.6"/><circle cx="378.3" cy="621.7" r="5.6"/><circle cx="383.3" cy="628.3" r="5.6"/><circle cx="386.7" cy="633.3" r="5.6"/><circle cx="393.3" cy="619.2" r="5.6"/><circle cx="397.5" cy="625.0" r="5.6"/><circle cx="393.3" cy="640.0" r="5.6"/><circle cx="397.5" cy="642.5" r="5.6"/><circle cx="388.3" cy="647.5" r="5.6"/><circle cx="373.3" cy="633.3" r="5.6"/><circle cx="374.2" cy="640.0" r="5.6"/><circle cx="374.2" cy="646.7" r="5.6"/><circle cx="356.7" cy="620.0" r="5.6"/><circle cx="357.5" cy="625.0" r="5.6"/><circle cx="345.8" cy="609.2" r="5.6"/><circle cx="345.0" cy="613.3" r="5.6"/><circle cx="423.3" cy="643.3" r="5.6"/><circle cx="425.8" cy="649.2" r="5.6"/><circle cx="406.7" cy="651.7" r="5.6"/><circle cx="405.8" cy="660.0" r="5.6"/><circle cx="395.0" cy="659.2" r="5.6"/><circle cx="377.5" cy="661.7" r="5.6"/><circle cx="377.5" cy="666.7" r="5.6"/><circle cx="363.3" cy="665.0" r="5.6"/><circle cx="373.3" cy="673.3" r="5.6"/><circle cx="379.2" cy="673.3" r="5.6"/><circle cx="391.7" cy="674.2" r="5.6"/><circle cx="400.0" cy="669.2" r="5.6"/><circle cx="393.3" cy="680.0" r="5.6"/><circle cx="396.7" cy="683.3" r="5.6"/><circle cx="386.7" cy="686.7" r="5.6"/><circle cx="403.3" cy="685.0" r="5.6"/><circle cx="425.8" cy="668.3" r="5.6"/><circle cx="420.8" cy="673.3" r="5.6"/><circle cx="415.8" cy="678.3" r="5.6"/><circle cx="436.7" cy="686.7" r="5.6"/><circle cx="275.0" cy="608.3" r="5.6"/><circle cx="271.7" cy="616.7" r="5.6"/><circle cx="274.2" cy="623.3" r="5.6"/><circle cx="272.5" cy="628.3" r="5.6"/><circle cx="281.7" cy="640.0" r="5.6"/><circle cx="288.3" cy="635.0" r="5.6"/><circle cx="293.3" cy="640.0" r="5.6"/><circle cx="295.0" cy="651.7" r="5.6"/><circle cx="300.8" cy="648.3" r="5.6"/><circle cx="305.8" cy="645.0" r="5.6"/><circle cx="310.0" cy="635.0" r="5.6"/><circle cx="300.0" cy="626.7" r="5.6"/><circle cx="313.3" cy="625.0" r="5.6"/><circle cx="323.3" cy="645.0" r="5.6"/><circle cx="325.8" cy="635.0" r="5.6"/><circle cx="335.0" cy="638.3" r="5.6"/><circle cx="337.5" cy="645.0" r="5.6"/><circle cx="346.7" cy="641.7" r="5.6"/><circle cx="350.0" cy="653.3" r="5.6"/><circle cx="334.2" cy="660.0" r="5.6"/><circle cx="341.7" cy="662.5" r="5.6"/><circle cx="305.0" cy="661.7" r="5.6"/><circle cx="310.0" cy="660.0" r="5.6"/><circle cx="315.0" cy="671.7" r="5.6"/><circle cx="320.8" cy="661.7" r="5.6"/><circle cx="325.0" cy="665.8" r="5.6"/><circle cx="327.5" cy="673.3" r="5.6"/><circle cx="331.7" cy="669.2" r="5.6"/><circle cx="338.3" cy="676.7" r="5.6"/><circle cx="350.0" cy="673.3" r="5.6"/><circle cx="343.3" cy="683.3" r="5.6"/><circle cx="326.7" cy="681.7" r="5.6"/><circle cx="361.7" cy="683.3" r="5.6"/><circle cx="298.3" cy="681.7" r="5.6"/><circle cx="293.3" cy="676.7" r="5.6"/><circle cx="280.0" cy="668.3" r="5.6"/><circle cx="271.7" cy="658.3" r="5.6"/><circle cx="271.7" cy="666.7" r="5.6"/><circle cx="288.2" cy="625.5" r="5.6"/><circle cx="294.9" cy="630.0" r="5.6"/><circle cx="300.7" cy="637.1" r="5.6"/><circle cx="303.9" cy="641.9" r="5.6"/><circle cx="310.1" cy="649.6" r="5.6"/><circle cx="316.9" cy="658.0" r="5.6"/><circle cx="326.0" cy="665.2" r="5.6"/><circle cx="299.6" cy="624.1" r="5.6"/><circle cx="305.7" cy="630.7" r="5.6"/><circle cx="314.6" cy="637.8" r="5.6"/><circle cx="318.4" cy="647.8" r="5.6"/><circle cx="327.8" cy="652.7" r="5.6"/><circle cx="332.7" cy="661.0" r="5.6"/><circle cx="340.5" cy="667.0" r="5.6"/><circle cx="310.8" cy="621.9" r="5.6"/><circle cx="322.0" cy="629.6" r="5.6"/><circle cx="327.6" cy="637.9" r="5.6"/><circle cx="333.5" cy="645.9" r="5.6"/><circle cx="341.7" cy="653.9" r="5.6"/><circle cx="347.1" cy="661.7" r="5.6"/><circle cx="355.0" cy="671.6" r="5.6"/><circle cx="322.8" cy="629.3" r="5.6"/><circle cx="332.4" cy="640.5" r="5.6"/><circle cx="341.4" cy="648.1" r="5.6"/><circle cx="347.5" cy="659.1" r="5.6"/><circle cx="353.3" cy="671.3" r="5.6"/><circle cx="361.9" cy="676.3" r="5.6"/><circle cx="349.9" cy="636.7" r="5.6"/><circle cx="358.1" cy="645.9" r="5.6"/><circle cx="363.1" cy="652.8" r="5.6"/><circle cx="373.6" cy="662.2" r="5.6"/><circle cx="381.4" cy="671.5" r="5.6"/><circle cx="130.3" cy="575.7" r="5.6"/><circle cx="130.7" cy="576.3" r="5.6"/><circle cx="132.1" cy="577.2" r="5.6"/><circle cx="132.7" cy="577.3" r="5.6"/><circle cx="133.9" cy="578.7" r="5.6"/><circle cx="134.8" cy="578.5" r="5.6"/><circle cx="135.3" cy="579.2" r="5.6"/><circle cx="136.3" cy="579.7" r="5.6"/><circle cx="137.2" cy="580.8" r="5.6"/><circle cx="138.8" cy="581.1" r="5.6"/><circle cx="139.8" cy="581.9" r="5.6"/><circle cx="140.6" cy="582.9" r="5.6"/><circle cx="141.7" cy="582.8" r="5.6"/><circle cx="142.1" cy="583.9" r="5.6"/><circle cx="143.6" cy="584.1" r="5.6"/><circle cx="144.0" cy="585.3" r="5.6"/><circle cx="148.3" cy="593.3" r="5.6"/><circle cx="160.0" cy="603.0" r="5.6"/><circle cx="156.1" cy="589.8" r="5.6"/><circle cx="157.4" cy="591.1" r="5.6"/><circle cx="159.3" cy="591.1" r="5.6"/><circle cx="159.9" cy="592.9" r="5.6"/><circle cx="161.0" cy="593.4" r="5.6"/><circle cx="162.1" cy="593.9" r="5.6"/><circle cx="162.2" cy="594.6" r="5.6"/><circle cx="163.8" cy="595.8" r="5.6"/><circle cx="171.2" cy="584.3" r="5.6"/><circle cx="173.0" cy="586.0" r="5.6"/><circle cx="173.8" cy="586.4" r="5.6"/><circle cx="174.3" cy="586.8" r="5.6"/><circle cx="175.6" cy="587.4" r="5.6"/><circle cx="176.0" cy="589.7" r="5.6"/><circle cx="177.3" cy="589.2" r="5.6"/><circle cx="177.3" cy="591.5" r="5.6"/><circle cx="178.9" cy="592.4" r="5.6"/><circle cx="180.3" cy="592.4" r="5.6"/><circle cx="181.2" cy="593.8" r="5.6"/><circle cx="180.9" cy="593.9" r="5.6"/><circle cx="181.3" cy="594.8" r="5.6"/><circle cx="183.9" cy="595.0" r="5.6"/><circle cx="184.0" cy="595.9" r="5.6"/><circle cx="183.9" cy="597.8" r="5.6"/><circle cx="185.1" cy="597.4" r="5.6"/><circle cx="185.8" cy="599.5" r="5.6"/><circle cx="187.6" cy="599.0" r="5.6"/><circle cx="187.7" cy="601.8" r="5.6"/><circle cx="188.6" cy="601.8" r="5.6"/><circle cx="189.8" cy="603.1" r="5.6"/><circle cx="191.1" cy="604.5" r="5.6"/><circle cx="192.6" cy="604.3" r="5.6"/><circle cx="193.2" cy="605.5" r="5.6"/><circle cx="196.8" cy="607.2" r="5.6"/><circle cx="196.1" cy="611.3" r="5.6"/><circle cx="198.3" cy="612.7" r="5.6"/><circle cx="199.6" cy="613.0" r="5.6"/><circle cx="201.7" cy="615.6" r="5.6"/><circle cx="204.5" cy="616.6" r="5.6"/><circle cx="206.6" cy="618.9" r="5.6"/><circle cx="207.0" cy="619.7" r="5.6"/><circle cx="209.0" cy="619.8" r="5.6"/><circle cx="211.8" cy="622.8" r="5.6"/><circle cx="169.0" cy="597.7" r="5.6"/><circle cx="169.5" cy="599.3" r="5.6"/><circle cx="170.9" cy="599.5" r="5.6"/><circle cx="171.3" cy="601.4" r="5.6"/><circle cx="171.8" cy="602.6" r="5.6"/><circle cx="174.2" cy="603.3" r="5.6"/><circle cx="175.1" cy="604.7" r="5.6"/><circle cx="175.3" cy="605.2" r="5.6"/><circle cx="178.0" cy="606.2" r="5.6"/><circle cx="177.9" cy="606.8" r="5.6"/><circle cx="178.6" cy="608.0" r="5.6"/><circle cx="181.1" cy="610.1" r="5.6"/><circle cx="182.0" cy="611.7" r="5.6"/><circle cx="182.6" cy="612.6" r="5.6"/><circle cx="183.5" cy="612.6" r="5.6"/><circle cx="185.4" cy="614.6" r="5.6"/><circle cx="186.5" cy="614.8" r="5.6"/><circle cx="187.2" cy="615.6" r="5.6"/><circle cx="189.0" cy="618.3" r="5.6"/><circle cx="189.0" cy="620.2" r="5.6"/><circle cx="190.7" cy="619.6" r="5.6"/><circle cx="194.4" cy="622.0" r="5.6"/><circle cx="195.9" cy="625.0" r="5.6"/><circle cx="196.5" cy="627.2" r="5.6"/><circle cx="199.3" cy="628.1" r="5.6"/><circle cx="171.7" cy="613.7" r="5.6"/><circle cx="180.8" cy="622.5" r="5.6"/><circle cx="189.2" cy="629.2" r="5.6"/><circle cx="197.5" cy="635.8" r="5.6"/><circle cx="207.5" cy="642.5" r="5.6"/><circle cx="208.3" cy="638.3" r="5.6"/><circle cx="218.3" cy="650.0" r="5.6"/><circle cx="220.0" cy="646.7" r="5.6"/><circle cx="226.7" cy="659.2" r="5.6"/><circle cx="230.8" cy="661.7" r="5.6"/><circle cx="235.0" cy="664.2" r="5.6"/><circle cx="238.3" cy="668.3" r="5.6"/><circle cx="242.5" cy="671.7" r="5.6"/><circle cx="246.7" cy="675.0" r="5.6"/><circle cx="250.8" cy="677.5" r="5.6"/><circle cx="260.0" cy="686.7" r="5.6"/><circle cx="263.3" cy="690.0" r="5.6"/><circle cx="266.7" cy="692.5" r="5.6"/><circle cx="270.8" cy="695.8" r="5.6"/><circle cx="274.2" cy="699.2" r="5.6"/><circle cx="277.5" cy="701.7" r="5.6"/><circle cx="280.8" cy="704.2" r="5.6"/><circle cx="283.3" cy="705.0" r="5.6"/><circle cx="218.3" cy="605.0" r="5.6"/><circle cx="223.3" cy="608.3" r="5.6"/><circle cx="226.7" cy="613.3" r="5.6"/><circle cx="231.7" cy="617.5" r="5.6"/><circle cx="236.7" cy="621.7" r="5.6"/><circle cx="240.0" cy="625.8" r="5.6"/><circle cx="244.2" cy="630.0" r="5.6"/><circle cx="250.0" cy="635.8" r="5.6"/><circle cx="253.3" cy="641.7" r="5.6"/><circle cx="258.3" cy="646.7" r="5.6"/><circle cx="265.0" cy="650.0" r="5.6"/><circle cx="269.2" cy="656.7" r="5.6"/><circle cx="280.0" cy="665.0" r="5.6"/><circle cx="288.3" cy="673.3" r="5.6"/><circle cx="220.0" cy="628.3" r="5.6"/><circle cx="223.3" cy="633.3" r="5.6"/><circle cx="233.3" cy="643.3" r="5.6"/><circle cx="237.5" cy="648.3" r="5.6"/><circle cx="251.7" cy="657.5" r="5.6"/><circle cx="253.3" cy="661.7" r="5.6"/><circle cx="266.7" cy="672.5" r="5.6"/><circle cx="276.7" cy="680.0" r="5.6"/><circle cx="280.0" cy="685.0" r="5.6"/><circle cx="228.3" cy="626.7" r="5.6"/><circle cx="235.0" cy="631.7" r="5.6"/><circle cx="245.0" cy="640.0" r="5.6"/><circle cx="251.7" cy="645.0" r="5.6"/><circle cx="261.7" cy="652.5" r="5.6"/><circle cx="205.8" cy="626.7" r="5.6"/><circle cx="210.0" cy="620.0" r="5.6"/><circle cx="213.3" cy="616.7" r="5.6"/><circle cx="200.0" cy="610.0" r="5.6"/><circle cx="203.3" cy="615.0" r="5.6"/><circle cx="198.3" cy="630.0" r="5.6"/><circle cx="201.7" cy="633.3" r="5.6"/><circle cx="261.7" cy="598.3" r="5.6"/><circle cx="206.5" cy="588.6" r="5.6"/><circle cx="208.1" cy="588.6" r="5.6"/><circle cx="208.4" cy="589.2" r="5.6"/><circle cx="209.9" cy="589.5" r="5.6"/><circle cx="210.7" cy="590.9" r="5.6"/><circle cx="212.5" cy="591.7" r="5.6"/><circle cx="213.9" cy="592.1" r="5.6"/><circle cx="219.9" cy="580.5" r="5.6"/><circle cx="220.8" cy="581.6" r="5.6"/><circle cx="222.1" cy="582.4" r="5.6"/><circle cx="222.9" cy="583.5" r="5.6"/><circle cx="223.9" cy="583.9" r="5.6"/><circle cx="225.5" cy="585.0" r="5.6"/><circle cx="226.0" cy="585.2" r="5.6"/><circle cx="227.5" cy="585.7" r="5.6"/><circle cx="227.8" cy="587.0" r="5.6"/><circle cx="229.3" cy="587.4" r="5.6"/><circle cx="229.8" cy="588.2" r="5.6"/><circle cx="231.6" cy="589.3" r="5.6"/><circle cx="232.8" cy="590.3" r="5.6"/><circle cx="233.8" cy="590.4" r="5.6"/><circle cx="236.2" cy="590.9" r="5.6"/><circle cx="238.4" cy="591.4" r="5.6"/><circle cx="239.7" cy="591.7" r="5.6"/><circle cx="241.6" cy="591.4" r="5.6"/><circle cx="243.8" cy="592.2" r="5.6"/><circle cx="245.9" cy="591.3" r="5.6"/><circle cx="247.2" cy="591.6" r="5.6"/><circle cx="250.0" cy="591.9" r="5.6"/><circle cx="252.3" cy="592.2" r="5.6"/><circle cx="239.0" cy="600.2" r="5.6"/><circle cx="243.6" cy="605.0" r="5.6"/><circle cx="245.2" cy="607.4" r="5.6"/><circle cx="248.0" cy="607.3" r="5.6"/><circle cx="249.1" cy="608.5" r="5.6"/><circle cx="253.6" cy="614.2" r="5.6"/><circle cx="257.2" cy="614.7" r="5.6"/><circle cx="258.9" cy="618.7" r="5.6"/><circle cx="262.1" cy="619.6" r="5.6"/><circle cx="263.1" cy="621.4" r="5.6"/><circle cx="264.7" cy="622.3" r="5.6"/><circle cx="269.4" cy="627.7" r="5.6"/><circle cx="271.4" cy="627.5" r="5.6"/><circle cx="273.3" cy="629.9" r="5.6"/><circle cx="277.7" cy="632.1" r="5.6"/><circle cx="280.9" cy="633.1" r="5.6"/><circle cx="280.9" cy="636.8" r="5.6"/><circle cx="253.1" cy="594.4" r="5.6"/><circle cx="256.9" cy="597.0" r="5.6"/><circle cx="258.9" cy="596.7" r="5.6"/><circle cx="261.3" cy="600.7" r="5.6"/><circle cx="263.7" cy="602.3" r="5.6"/><circle cx="266.9" cy="606.6" r="5.6"/><circle cx="267.7" cy="608.3" r="5.6"/><circle cx="271.1" cy="610.2" r="5.6"/><circle cx="275.3" cy="614.0" r="5.6"/><circle cx="277.1" cy="614.1" r="5.6"/></g>
<line x1="152.2" y1="544.7" x2="152.2" y2="848.4" stroke="#d3d3d3" stroke-width="2" stroke-dasharray="3.2 4.8"/>
<line x1="281.8" y1="544.7" x2="281.8" y2="848.4" stroke="#d3d3d3" stroke-width="2" stroke-dasharray="3.2 4.8"/>
<line x1="412.2" y1="544.7" x2="412.2" y2="848.4" stroke="#d3d3d3" stroke-width="2" stroke-dasharray="3.2 4.8"/>
<line x1="541.8" y1="544.7" x2="541.8" y2="848.4" stroke="#d3d3d3" stroke-width="2" stroke-dasharray="3.2 4.8"/>
<line x1="112.5" y1="598.7" x2="608.3" y2="598.7" stroke="#d3d3d3" stroke-width="2" stroke-dasharray="3.2 4.8"/>
<line x1="112.5" y1="685.9" x2="608.3" y2="685.9" stroke="#d3d3d3" stroke-width="2" stroke-dasharray="3.2 4.8"/>
<line x1="112.5" y1="773.1" x2="608.3" y2="773.1" stroke="#d3d3d3" stroke-width="2" stroke-dasharray="3.2 4.8"/>
<line x1="197.30" y1="543.70" x2="111.50" y2="703.33" stroke="#808080" stroke-width="2.0" stroke-linecap="round" />
<line x1="368.20" y1="543.70" x2="204.42" y2="848.40" stroke="#808080" stroke-width="2.0" stroke-linecap="round" />
<line x1="539.30" y1="543.70" x2="375.52" y2="848.40" stroke="#808080" stroke-width="2.0" stroke-linecap="round" />
<line x1="608.30" y1="733.65" x2="546.62" y2="848.40" stroke="#808080" stroke-width="2.0" stroke-linecap="round" />
<text transform="translate(197.80 537.00) scale(1 1.06)" fill="#808080" font-size="19.9" text-anchor="middle" >22.7</text>
<text transform="translate(368.90 537.00) scale(1 1.06)" fill="#808080" font-size="19.9" text-anchor="middle" >22.75</text>
<text transform="translate(540.50 537.00) scale(1 1.06)" fill="#808080" font-size="19.9" text-anchor="middle" >22.8</text>
<text transform="translate(634.40 734.80) rotate(-90) scale(1 1.06)" fill="#808080" font-size="19.9" text-anchor="middle" >22.85</text>
<line x1="152.20" y1="848.40" x2="152.20" y2="864.30" stroke="#000" stroke-width="2" stroke-linecap="round" />
<text transform="translate(152.20 896.30) scale(1 1.06)" fill="#000" font-size="26.56" text-anchor="middle" >32.85</text>
<line x1="281.80" y1="848.40" x2="281.80" y2="864.30" stroke="#000" stroke-width="2" stroke-linecap="round" />
<text transform="translate(281.80 896.30) scale(1 1.06)" fill="#000" font-size="26.56" text-anchor="middle" >32.90</text>
<line x1="412.20" y1="848.40" x2="412.20" y2="864.30" stroke="#000" stroke-width="2" stroke-linecap="round" />
<text transform="translate(412.20 896.30) scale(1 1.06)" fill="#000" font-size="26.56" text-anchor="middle" >32.95</text>
<line x1="541.80" y1="848.40" x2="541.80" y2="864.30" stroke="#000" stroke-width="2" stroke-linecap="round" />
<text transform="translate(541.80 896.30) scale(1 1.06)" fill="#000" font-size="26.56" text-anchor="middle" >33.00</text>
<line x1="111.50" y1="598.70" x2="95.60" y2="598.70" stroke="#000" stroke-width="2" stroke-linecap="round" />
<text transform="translate(83.00 598.70) rotate(-90) scale(1 1.06)" fill="#000" font-size="26.56" text-anchor="middle" >21.60</text>
<line x1="111.50" y1="685.90" x2="95.60" y2="685.90" stroke="#000" stroke-width="2" stroke-linecap="round" />
<line x1="111.50" y1="773.10" x2="95.60" y2="773.10" stroke="#000" stroke-width="2" stroke-linecap="round" />
<text transform="translate(83.00 773.10) rotate(-90) scale(1 1.06)" fill="#000" font-size="26.56" text-anchor="middle" >21.50</text>
<text transform="translate(35.60 695.80) rotate(-90) scale(1 1.06)" fill="#000" font-size="26.56" text-anchor="middle" >θ [ <tspan font-size="30" dy="1.2">°</tspan><tspan dy="-1.2">C ]</tspan></text>
<text transform="translate(359.80 937.60) scale(1 1.06)" fill="#000" font-size="26.56" text-anchor="middle" >Salinity</text>
<rect x="111.50" y="543.70" width="496.80" height="304.70" fill="none" stroke="#000" stroke-width="2"/>
<polygon points="972.1,543.7 1000,631 1106.25,659.4 1171.9,629 1202.6,543.7" fill="#d3d3d3"/>
<circle cx="1032" cy="696.1" r="7" fill="#ff0000"/>
<line x1="820.00" y1="848.40" x2="820.00" y2="864.30" stroke="#000" stroke-width="2" stroke-linecap="round" />
<line x1="820.00" y1="543.70" x2="820.00" y2="527.80" stroke="#000" stroke-width="2" stroke-linecap="round" />
<text transform="translate(820.00 896.30) scale(1 1.06)" fill="#000" font-size="26.56" text-anchor="middle" >-82</text>
<line x1="928.70" y1="848.40" x2="928.70" y2="864.30" stroke="#000" stroke-width="2" stroke-linecap="round" />
<line x1="928.70" y1="543.70" x2="928.70" y2="527.80" stroke="#000" stroke-width="2" stroke-linecap="round" />
<text transform="translate(928.70 896.30) scale(1 1.06)" fill="#000" font-size="26.56" text-anchor="middle" >-81.5</text>
<line x1="1037.10" y1="848.40" x2="1037.10" y2="864.30" stroke="#000" stroke-width="2" stroke-linecap="round" />
<line x1="1037.10" y1="543.70" x2="1037.10" y2="527.80" stroke="#000" stroke-width="2" stroke-linecap="round" />
<text transform="translate(1037.10 896.30) scale(1 1.06)" fill="#000" font-size="26.56" text-anchor="middle" >-81</text>
<line x1="1145.80" y1="848.40" x2="1145.80" y2="864.30" stroke="#000" stroke-width="2" stroke-linecap="round" />
<line x1="1145.80" y1="543.70" x2="1145.80" y2="527.80" stroke="#000" stroke-width="2" stroke-linecap="round" />
<text transform="translate(1145.80 896.30) scale(1 1.06)" fill="#000" font-size="26.56" text-anchor="middle" >-80.5</text>
<line x1="1254.30" y1="848.40" x2="1254.30" y2="864.30" stroke="#000" stroke-width="2" stroke-linecap="round" />
<line x1="1254.30" y1="543.70" x2="1254.30" y2="527.80" stroke="#000" stroke-width="2" stroke-linecap="round" />
<text transform="translate(1254.30 896.30) scale(1 1.06)" fill="#000" font-size="26.56" text-anchor="middle" >-80</text>
<line x1="783.50" y1="559.70" x2="767.60" y2="559.70" stroke="#000" stroke-width="2" stroke-linecap="round" />
<line x1="1280.30" y1="559.70" x2="1296.20" y2="559.70" stroke="#000" stroke-width="2" stroke-linecap="round" />
<text transform="translate(754.70 559.70) rotate(-90) scale(1 1.06)" fill="#000" font-size="26.56" text-anchor="middle" >25.5</text>
<line x1="783.50" y1="679.20" x2="767.60" y2="679.20" stroke="#000" stroke-width="2" stroke-linecap="round" />
<line x1="1280.30" y1="679.20" x2="1296.20" y2="679.20" stroke="#000" stroke-width="2" stroke-linecap="round" />
<text transform="translate(754.70 679.20) rotate(-90) scale(1 1.06)" fill="#000" font-size="26.56" text-anchor="middle" >25</text>
<line x1="783.50" y1="798.70" x2="767.60" y2="798.70" stroke="#000" stroke-width="2" stroke-linecap="round" />
<line x1="1280.30" y1="798.70" x2="1296.20" y2="798.70" stroke="#000" stroke-width="2" stroke-linecap="round" />
<text transform="translate(754.70 798.70) rotate(-90) scale(1 1.06)" fill="#000" font-size="26.56" text-anchor="middle" >24.5</text>
<text transform="translate(783.60 521.00) scale(1 1.06)" fill="#000" font-size="26.56" text-anchor="start" >70</text>
<text transform="translate(1280.00 521.00) scale(1 1.06)" fill="#000" font-size="26.56" text-anchor="end" textLength="248.2" lengthAdjust="spacing">2014-12-04 07:04:08</text>
<rect x="783.50" y="543.70" width="496.80" height="304.70" fill="none" stroke="#000" stroke-width="2"/>
</svg>
</body></html>
